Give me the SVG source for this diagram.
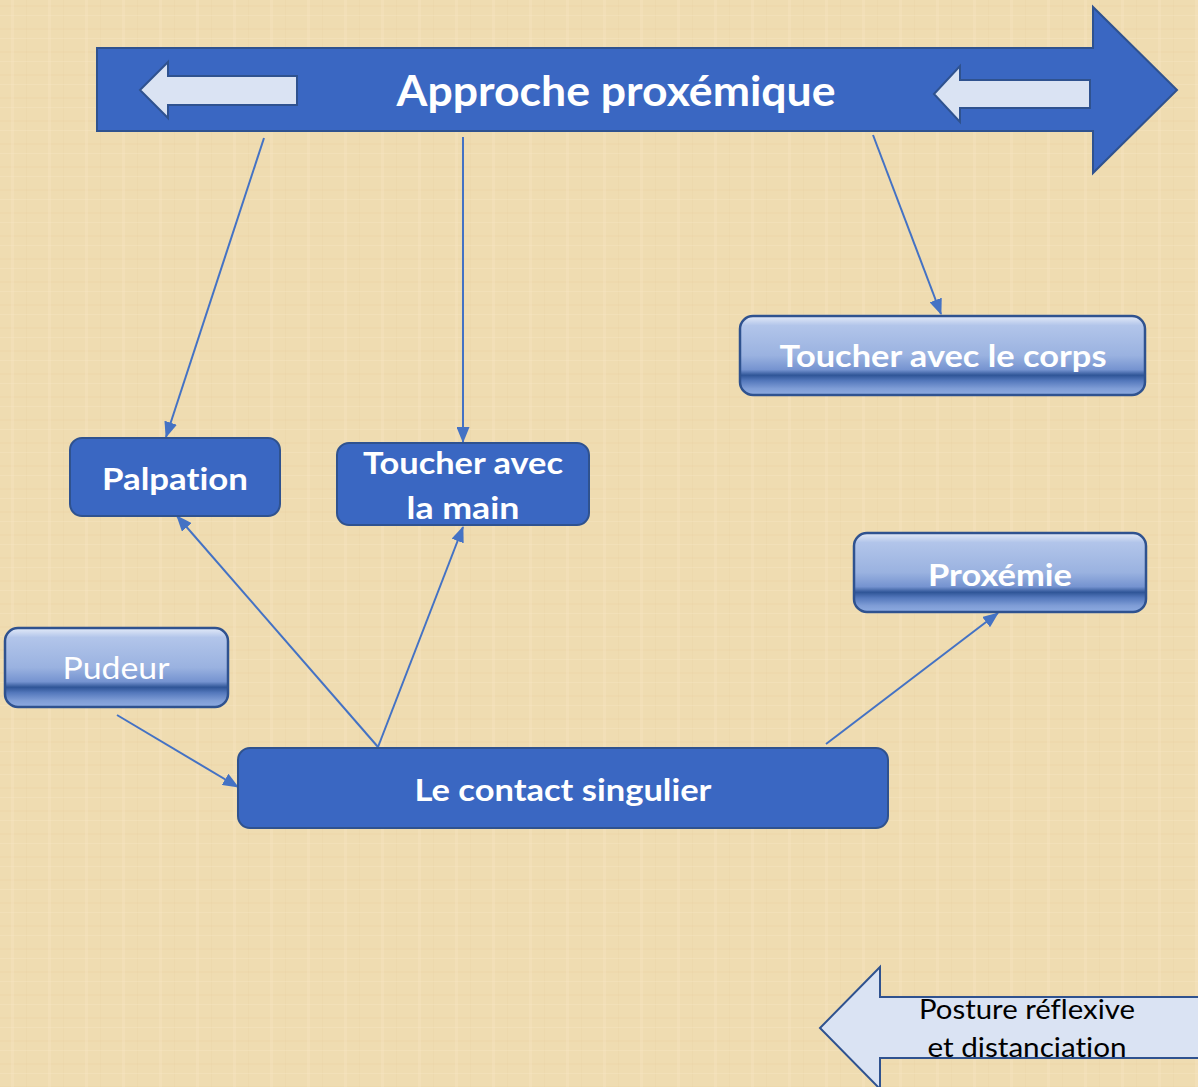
<svg xmlns="http://www.w3.org/2000/svg" width="1198" height="1087" viewBox="0 0 1198 1087">
<defs>
<style>
text{font-variant-ligatures:none}
.t{font-family:Lato,"Open Sans","Liberation Sans",sans-serif;fill:#fff;text-anchor:middle}
.b{font-weight:bold}
.solid{fill:#3a67c2;stroke:#2f528f;stroke-width:2}
.grad{fill:url(#g);stroke:#2f528f;stroke-width:2.5}
.c{stroke:#4472c4;stroke-width:2;fill:none}
.lt{fill:#dae3f3;stroke:#2f528f;stroke-width:2}
.k{font-family:Lato,"Open Sans","Liberation Sans",sans-serif;fill:#000;text-anchor:middle}
</style>
<linearGradient id="g" x1="0" y1="0" x2="0" y2="1">
<stop offset="0" stop-color="#e4ebf8"/>
<stop offset="0.12" stop-color="#b2c5ea"/>
<stop offset="0.5" stop-color="#9ab2e0"/>
<stop offset="0.68" stop-color="#7593d0"/>
<stop offset="0.75" stop-color="#2f5597"/>
<stop offset="0.82" stop-color="#5478bc"/>
<stop offset="0.92" stop-color="#7f9dd6"/>
<stop offset="1" stop-color="#8eabe1"/>
</linearGradient>
<pattern id="tex" width="37" height="23" patternUnits="userSpaceOnUse">
<rect width="37" height="23" fill="#efdcb1"/>
<rect x="0" y="5" width="37" height="2" fill="#e9d4a6" opacity="0.35"/>
<rect x="11" y="0" width="3" height="23" fill="#f5e5c1" opacity="0.35"/>
<rect x="26" y="0" width="1" height="23" fill="#e8d2a2" opacity="0.3"/>
<rect x="0" y="15" width="37" height="1" fill="#f6e7c6" opacity="0.35"/>
</pattern>
<marker id="ah" markerWidth="16" markerHeight="13" refX="15" refY="6.5" orient="auto" markerUnits="userSpaceOnUse">
<path d="M0,0 L16,6.5 L0,13 Z" fill="#4472c4"/>
</marker>
</defs>
<rect width="1198" height="1087" fill="url(#tex)"/>

<g id="approche">
<path d="M97,48 H1093 V7 L1177,90 L1093,173 V131 H97 Z" fill="#3a67c2" stroke="#2f528f" stroke-width="2"/>
<path class="lt" d="M140,90 L168,62 V76 H297 V105 H168 V118 Z"/>
<path class="lt" d="M934,94 L960,66 V80 H1090 V108 H960 V122 Z"/>
<text class="t b" x="616" y="106" font-size="42" textLength="439" lengthAdjust="spacingAndGlyphs">Approche proxémique</text>
</g>

<g id="connectors">
<line class="c" x1="264" y1="138" x2="166" y2="437" marker-end="url(#ah)"/>
<line class="c" x1="463" y1="137" x2="463" y2="442" marker-end="url(#ah)"/>
<line class="c" x1="873" y1="135" x2="941" y2="314" marker-end="url(#ah)"/>
<line class="c" x1="378" y1="747" x2="177" y2="516" marker-end="url(#ah)"/>
<line class="c" x1="378" y1="747" x2="463" y2="527" marker-end="url(#ah)"/>
<line class="c" x1="117" y1="715" x2="238" y2="787" marker-end="url(#ah)"/>
<line class="c" x1="826" y1="744" x2="998" y2="613" marker-end="url(#ah)"/>
</g>

<g id="toucher-corps">
<rect class="grad" x="740" y="316" width="405" height="79" rx="13"/>
<text class="t b" x="943" y="367" font-size="30" textLength="327" lengthAdjust="spacingAndGlyphs">Toucher avec le corps</text>
</g>

<g id="proxemie">
<rect class="grad" x="854" y="533" width="292" height="79" rx="13"/>
<text class="t b" x="1000" y="586" font-size="30" textLength="144" lengthAdjust="spacingAndGlyphs">Proxémie</text>
</g>

<g id="palpation">
<rect class="solid" x="70" y="438" width="210" height="78" rx="12"/>
<text class="t b" x="175" y="490" font-size="30" textLength="146" lengthAdjust="spacingAndGlyphs">Palpation</text>
</g>

<g id="toucher-main">
<rect class="solid" x="337" y="443" width="252" height="82" rx="12"/>
<text class="t b" x="463" y="474" font-size="30" textLength="200" lengthAdjust="spacingAndGlyphs">Toucher avec</text>
<text class="t b" x="463" y="519" font-size="30" textLength="113" lengthAdjust="spacingAndGlyphs">la main</text>
</g>

<g id="pudeur">
<rect class="grad" x="5" y="628" width="223" height="79" rx="13"/>
<text class="t" x="116" y="679" font-size="30" textLength="107" lengthAdjust="spacingAndGlyphs">Pudeur</text>
</g>

<g id="contact">
<rect class="solid" x="238" y="748" width="650" height="80" rx="12"/>
<text class="t b" x="563" y="801" font-size="30" textLength="297" lengthAdjust="spacingAndGlyphs">Le contact singulier</text>
</g>

<g id="posture">
<path class="lt" d="M1200,997 H880 V967 L820,1028 L880,1089 V1058 H1200 Z"/>
<text class="k" x="1027" y="1019" font-size="26" textLength="216" lengthAdjust="spacingAndGlyphs">Posture réflexive</text>
<text class="k" x="1027" y="1057" font-size="26" textLength="199" lengthAdjust="spacingAndGlyphs">et distanciation</text>
</g>
</svg>
